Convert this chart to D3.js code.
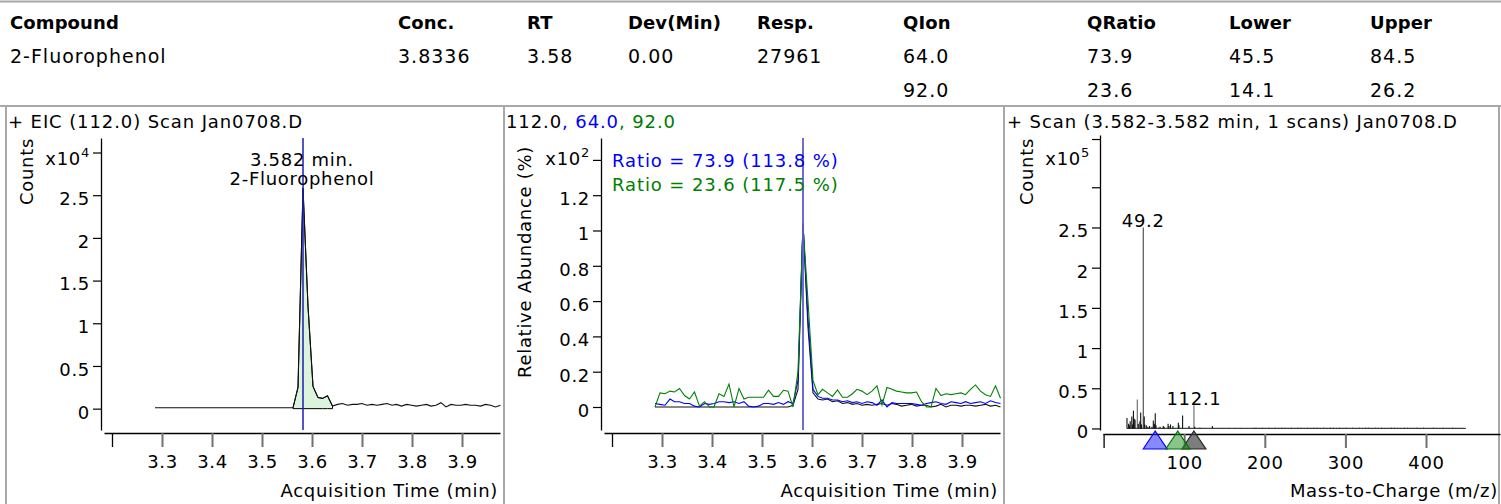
<!DOCTYPE html>
<html><head><meta charset="utf-8">
<script src="https://cdn.jsdelivr.net/npm/d3@7"></script>
<style>
html,body{margin:0;padding:0;background:#fff;}
svg{display:block;font-family:"DejaVu Sans",Verdana,sans-serif;}
</style></head><body>
<svg id="c" width="1501" height="504"></svg>
<script>
// ---------------- DATA ----------------
const tableHeaders = ["Compound","Conc.","RT","Dev(Min)","Resp.","QIon","QRatio","Lower","Upper"];
const tableRow1 = ["2-Fluorophenol","3.8336","3.58","0.00","27961","64.0","73.9","45.5","84.5"];
const tableRow2 = ["","","","","","92.0","23.6","14.1","26.2"];

const panelTitle1 = "+ EIC (112.0) Scan Jan0708.D";
const panelTitle2Parts = ["112.0", ", 64.0", ", 92.0"];
const panelTitle3 = "+ Scan (3.582-3.582 min, 1 scans) Jan0708.D";
const ratioTexts = ["Ratio = 73.9 (113.8 %)", "Ratio = 23.6 (117.5 %)"];
const peakRT = 3.582;
const peakNameLines = ["3.582 min.", "2-Fluorophenol"];
const integStart = 3.562, integEnd = 3.641;

// acquisition times (min)
const times = [3.286,3.296,3.306,3.316,3.325,3.335,3.345,3.355,3.365,3.375,
 3.385,3.395,3.404,3.414,3.424,3.434,3.444,3.454,3.464,3.473,
 3.483,3.493,3.503,3.513,3.523,3.533,3.543,3.552,3.562,3.572,
 3.582,3.592,3.602,3.612,3.621,3.631,3.641,3.651,3.661,3.671,
 3.681,3.690,3.700,3.710,3.720,3.730,3.740,3.750,3.760,3.769,
 3.779,3.789,3.799,3.809,3.819,3.829,3.838,3.848,3.858,3.868,
 3.878,3.888,3.898,3.907,3.917,3.927,3.937,3.947,3.957,3.967,3.977];

// EIC 112 counts (x10^4)
const eicCounts = [0.01,0.01,0.01,0.01,0.01,0.01,0.01,0.01,0.01,0.01,
 0.01,0.01,0.01,0.01,0.01,0.01,0.01,0.01,0.01,0.01,
 0.01,0.01,0.01,0.01,0.01,0.01,0.01,0.01,0.01,0.25,
 2.58,1.2,0.26,0.13,0.12,0.15,0.03,0.05,0.06,0.04,
 0.05,0.05,0.06,0.04,0.05,0.04,0.05,0.06,0.04,0.05,
 0.03,0.05,0.04,0.03,0.04,0.05,0.03,0.04,0.07,0.02,
 0.05,0.04,0.04,0.05,0.04,0.04,0.03,0.05,0.04,0.02,0.04];

// relative abundance (x10^2 %)
const ion112 = [0,0,0,0,0,0,0,0,0,0,
 0,0,0,0,0,0,0,0,0,0,
 0,0,0,0,0,0,0,0,0.01,0.10,
 1.04,0.45,0.08,0.045,0.04,0.045,0.03,0.035,0.02,0.025,
 0.015,0.02,0.01,0.015,0.01,0.015,0.02,0.01,0.02,0.015,
 0.005,0.01,0.015,0.005,0.01,0.01,0.0,0.005,0.015,0.0,
 0.01,0.01,0.005,0.01,0.01,0.005,0.01,0.015,0.005,0.01,0.0];
const ion64 = [0.02,0.015,0.01,0.045,0.03,0.03,0.02,0.02,0.005,0.0,
 0.02,0.015,0.02,0.03,0.03,0.025,0.03,0.02,0.03,0.005,
 0.0,0.005,0.02,0.02,0.015,0.025,0.015,0.03,0.02,0.15,
 1.04,0.5,0.10,0.06,0.05,0.05,0.04,0.04,0.03,0.035,
 0.025,0.03,0.02,0.03,0.025,0.01,0.04,0.0,0.025,0.02,
 0.02,0.02,0.02,0.015,0.01,0.02,0.025,0.03,0.02,0.015,
 0.03,0.025,0.02,0.03,0.02,0.025,0.03,0.02,0.035,0.025,0.02];
const ion92 = [0.0,0.08,0.075,0.09,0.085,0.105,0.065,0.045,0.085,0.005,
 0.03,0.0,0.0,0.075,0.06,0.13,0.0,0.105,0.045,0.055,
 0.055,0.055,0.055,0.095,0.06,0.06,0.095,0.09,0.0,0.2,
 1.03,0.6,0.15,0.07,0.10,0.08,0.06,0.097,0.055,0.055,
 0.075,0.1,0.09,0.07,0.09,0.12,0.012,0.11,0.1,0.09,
 0.085,0.08,0.08,0.085,0.03,0.0,0.0,0.105,0.065,0.075,
 0.07,0.075,0.08,0.07,0.1,0.125,0.09,0.07,0.06,0.12,0.05];

// mass spectrum at 3.582 min (m/z, counts x10^5)
const specMz = [29,31,32,33,35,36,37,38,39,41.8,43,45,46,47,49.2,50.4,51,53,55,57,
 60,61.7,63,64.1,65,68,70,74,75,80,81,83,86,92.7,93.5,98,106,112.1,113,119.6,
 135,147,155,163,170,178,186,189,193,197,201,205,209,213,217,221,225,229,233,237,
 241,245,249,253,257,261,265,269,273,277,281,285,289,293,297,301,305,309,313,317,
 321,325,329,333,337,341,345,349,353,357,361,365,369,373,377,381,385,389,393,397,
 401,405,409,413,417,421,425,429,433,437,441,445,449];
const specInt = [0.13,0.06,0.04,0.09,0.15,0.05,0.22,0.12,0.11,0.36,0.06,0.09,0.2,0.05,2.50,0.15,0.05,0.04,0.02,0.03,
 0.02,0.10,0.06,0.19,0.04,0.01,0.02,0.03,0.02,0.06,0.03,0.05,0.03,0.07,0.04,0.16,0.03,0.29,0.02,0.01,
 0.03,0.006,0.007,0.005,0.006,0.004,0.007,0.008,0.006,0.009,0.007,0.008,0.006,0.01,0.007,0.008,0.009,0.006,0.008,0.007,
 0.01,0.008,0.007,0.009,0.006,0.008,0.01,0.007,0.008,0.006,0.009,0.008,0.007,0.01,0.006,0.008,0.007,0.009,0.006,0.008,
 0.007,0.01,0.008,0.006,0.009,0.007,0.008,0.006,0.007,0.01,0.008,0.006,0.007,0.009,0.008,0.006,0.007,0.008,0.006,0.009,
 0.007,0.006,0.008,0.007,0.006,0.008,0.007,0.006,0.008,0.007,0.006,0.007,0.006];
const specLabelMz = [49.2, 112.1];
const specLabelText = ["49.2", "112.1"];
const qualIonMz = [64.0, 112.0, 92.0];
const qualIonFill = ["rgba(40,40,255,0.55)", "rgba(70,70,70,0.7)", "rgba(40,150,40,0.55)"];
const qualIonStroke = ["#0000ff", "#222222", "#007000"];

// ticks
const timeTicks = [3.2,3.3,3.4,3.5,3.6,3.7,3.8,3.9];
const countTicks1 = [0,0.5,1,1.5,2,2.5,3];
const relTicks = [0,0.2,0.4,0.6,0.8,1,1.2,1.4];
const countTicks3 = [0,0.5,1,1.5,2,2.5,3,3.6];
const mzTicks = [0,100,200,300,400];

// ---------------- DRAW ----------------
const svg = d3.select("#c");
const frame = "#a8a8a8";
const tickFont = 18, tickLS = 0.7;

// frames
[[0,1.5,1501,1.5],[0,106,1501,106],[6,106,6,504],[504,106,504,504],[1004,106,1004,504],[1499,106,1499,504]]
  .forEach(l => svg.append("line").attr("x1",l[0]).attr("y1",l[1]).attr("x2",l[2]).attr("y2",l[3])
    .attr("stroke",frame).attr("stroke-width",2));

// table
const colX = [10,398,527,628,757,903,1087,1229,1370];
const tbl = svg.append("g");
tbl.selectAll("text.h").data(tableHeaders).join("text").attr("class","h")
  .attr("x",(d,i)=>colX[i]).attr("y",29).attr("font-size",18).attr("font-weight","bold")
  .attr("letter-spacing",0.1).text(d=>d);
[[tableRow1,63],[tableRow2,97]].forEach(([row,y]) => {
  tbl.selectAll(null).data(row).join("text")
    .attr("x",(d,i)=>colX[i]).attr("y",y).attr("font-size",19).attr("letter-spacing",1.0).text(d=>d);
});

function styleAxis(g){
  g.selectAll("text").attr("font-size",tickFont).attr("letter-spacing",tickLS)
   .attr("font-family",'"DejaVu Sans", Verdana, sans-serif').attr("fill","#000");
  g.select(".domain").attr("stroke","#000").attr("stroke-width",1.3);
}
function xAxis(scale, y, ticks, fmt){
  const g = svg.append("g").attr("transform",`translate(0,${y})`)
    .call(d3.axisBottom(scale).tickValues(ticks).tickSize(14).tickPadding(8).tickSizeOuter(0)
      .tickFormat((d,i)=> i===0 ? "" : fmt(d)));
  styleAxis(g);
  g.selectAll(".tick line").attr("stroke",(d,i)=> i===0 ? "#000" : "#707070").attr("stroke-width",(d,i)=> i===0?1.3:2);
  return g;
}
function yAxis(scale, x, ticks, hidden){
  const g = svg.append("g").attr("transform",`translate(${x},0)`)
    .call(d3.axisLeft(scale).tickValues(ticks).tickSize(8).tickPadding(3).tickSizeOuter(0)
      .tickFormat(d => hidden.includes(d) ? "" : String(d)));
  styleAxis(g);
  g.selectAll(".tick text").attr("dy","0.52em");
  g.selectAll(".tick line").attr("stroke","#000").attr("stroke-width",1.2);
  return g;
}
function expLabel(xRight, exp){
  const t = svg.append("text").attr("x",xRight).attr("y",165).attr("text-anchor","end")
    .attr("font-size",tickFont).attr("letter-spacing",tickLS);
  t.append("tspan").text("x10");
  t.append("tspan").attr("dy",-8).attr("font-size",13).text(exp);
}
function vTitle(x, y, anchor, txt){
  svg.append("text").attr("transform",`translate(${x},${y}) rotate(-90)`).attr("text-anchor",anchor)
    .attr("font-size",tickFont).attr("letter-spacing",tickLS).text(txt);
}
function hTitle(x, y, txt){
  svg.append("text").attr("x",x).attr("y",y).attr("text-anchor","end")
    .attr("font-size",tickFont).attr("letter-spacing",tickLS).text(txt);
}
const fmtT = d3.format(".1f");

// ---- Panel 1: EIC ----
const x1 = d3.scaleLinear().domain([3.184, 3.976]).range([104, 500]);
const y1 = d3.scaleLinear().domain([-0.25, 3.17]).range([430, 138]);
svg.append("text").attr("x",8).attr("y",128).attr("font-size",18).attr("letter-spacing",0.9).text(panelTitle1);
const integ = times.map((t,i)=>({t,v:eicCounts[i]})).filter(d=>d.t>=integStart-1e-6 && d.t<=integEnd+1e-6);
svg.append("path").datum(integ)
  .attr("d", d3.area().x(d=>x1(d.t)).y0(y1(0)).y1(d=>y1(d.v)))
  .attr("fill","#dcf4dc").attr("stroke","#000").attr("stroke-width",1);
svg.append("path").datum(eicCounts)
  .attr("d", d3.line().x((d,i)=>x1(times[i])).y(d=>y1(d)))
  .attr("fill","none").attr("stroke","#111").attr("stroke-width",1.1);
svg.append("line").attr("x1",x1(peakRT)).attr("x2",x1(peakRT)).attr("y1",138).attr("y2",430)
  .attr("stroke","#1c1cb4").attr("stroke-width",1.5);
peakNameLines.forEach((s,i)=> svg.append("text").attr("x",x1(peakRT)-1).attr("y",166+i*19)
  .attr("text-anchor","middle").attr("font-size",18).attr("letter-spacing",0.7).text(s));
yAxis(y1, 101, countTicks1, [3]);
xAxis(x1, 433, timeTicks, fmtT);
expLabel(90, "4");
vTitle(33, 138, "end", "Counts");
hTitle(498, 497, "Acquisition Time (min)");

// ---- Panel 2: qualifier ratios ----
const x2 = d3.scaleLinear().domain([3.184, 3.976]).range([604, 1000]);
const y2 = d3.scaleLinear().domain([-0.1303, 1.524]).range([430, 138]);
const tt = svg.append("text").attr("x",506).attr("y",128).attr("font-size",18).attr("letter-spacing",0.9);
const titleCols = ["#000","#0000ff","#007a00"];
panelTitle2Parts.forEach((p,i)=> tt.append("tspan").attr("fill",titleCols[i]).text(p));
const line2 = d3.line().x((d,i)=>x2(times[i])).y(d=>y2(d));
[[ion112,"#111"],[ion64,"#0000ff"],[ion92,"#008000"]].forEach(([arr,c]) =>
  svg.append("path").datum(arr).attr("d",line2).attr("fill","none").attr("stroke",c).attr("stroke-width",1.1));
svg.append("line").attr("x1",x2(peakRT)).attr("x2",x2(peakRT)).attr("y1",138).attr("y2",430)
  .attr("stroke","#5c5cd0").attr("stroke-width",1.8);
ratioTexts.forEach((s,i)=> svg.append("text").attr("x",612).attr("y",167+i*24)
  .attr("fill", i===0 ? "#0000ff" : "#008000").attr("font-size",18).attr("letter-spacing",0.9).text(s));
yAxis(y2, 601, relTicks, [1.4]);
xAxis(x2, 433, timeTicks, fmtT);
expLabel(590, "2");
vTitle(531, 262, "middle", "Relative Abundance (%)");
hTitle(998, 497, "Acquisition Time (min)");

// ---- Panel 3: spectrum ----
const x3 = d3.scaleLinear().domain([-0.75, 491.8]).range([1103, 1500]);
const y3 = d3.scaleLinear().domain([-0.019, 3.65]).range([430, 135]);
svg.append("text").attr("x",1007).attr("y",128).attr("font-size",18).attr("letter-spacing",0.9).text(panelTitle3);
svg.append("line").attr("x1",x3(specMz[0])).attr("x2",x3(specMz[specMz.length-1])).attr("y1",y3(0)).attr("y2",y3(0))
  .attr("stroke","#444").attr("stroke-width",1.2);
svg.append("g").selectAll("line").data(specMz).join("line")
  .attr("x1",d=>x3(d)).attr("x2",d=>x3(d)).attr("y1",y3(0))
  .attr("y2",(d,i)=>y3(specInt[i])).attr("stroke",(d,i)=> specInt[i] > 1 ? "#444" : (specInt[i]>0.25 ? "#666" : "#111")).attr("stroke-width",1.1);
specLabelMz.forEach((m,i)=>{
  const idx = specMz.indexOf(m);
  svg.append("text").attr("x",x3(m)).attr("y",y3(specInt[idx])).attr("text-anchor","middle")
    .attr("font-size",18).attr("letter-spacing",0.7).text(specLabelText[i]);
});
yAxis(y3, 1100, countTicks3, [3, 3.6]);
xAxis(x3, 434, mzTicks, d3.format("d"));
qualIonMz.forEach((m,i)=>{
  svg.append("path").datum([[x3(m)-12,449],[x3(m),431],[x3(m)+12,449]])
    .attr("d", d3.line().curve(d3.curveLinearClosed))
    .attr("fill",qualIonFill[i]).attr("stroke",qualIonStroke[i]).attr("stroke-width",1.2);
});
expLabel(1090, "5");
vTitle(1033, 138, "end", "Counts");
hTitle(1498, 497, "Mass-to-Charge (m/z)");
</script>
</body></html>
